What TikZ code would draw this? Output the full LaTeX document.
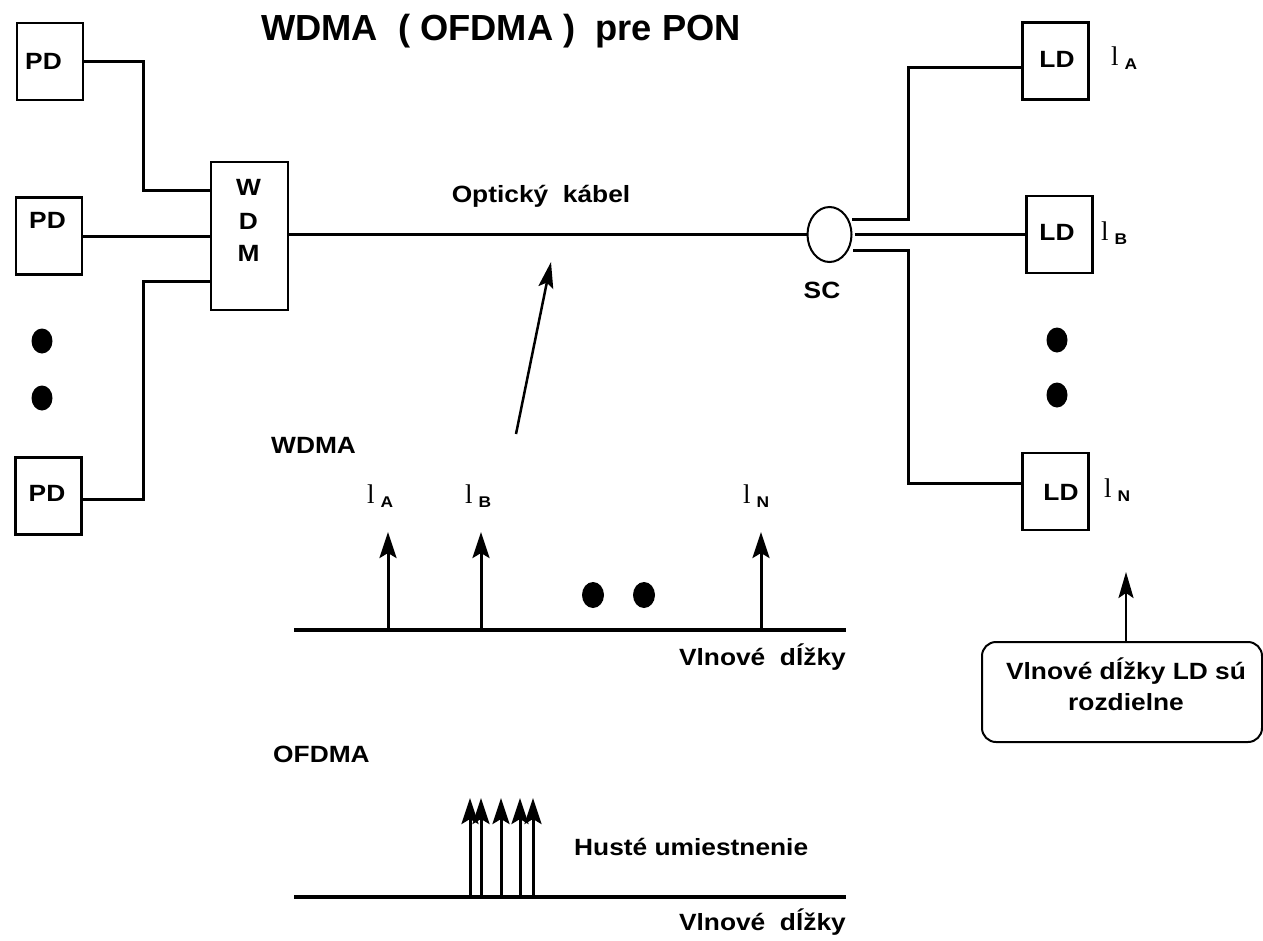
\documentclass[tikz,border=0pt]{standalone}
\usepackage{fontspec}
\setmainfont{Liberation Sans}[FakeStretch=1.12]
\newfontfamily\titlefont{Liberation Sans}
\newfontfamily\serifl{Liberation Serif}
\usetikzlibrary{arrows.meta,shapes.geometric}
\newcommand{\lamb}[1]{{\serifl\fontsize{27}{27}\selectfont l}\hspace{6pt}\raisebox{-4pt}{\fontsize{15.5}{15.5}\selectfont\bfseries #1}}
\tikzset{
  box/.style={draw, line width=2.5pt, minimum width=66pt, minimum height=77pt, inner sep=0pt},
  lab/.style={font=\fontsize{23.5}{27}\selectfont\bfseries, inner sep=0pt},
  wire/.style={line width=3pt},
  axisline/.style={line width=4pt},
  spike/.style={line width=3pt, -{Stealth[length=26pt,width=17pt,inset=5pt]}},
  lamlab/.style={anchor=base west, inner sep=0pt},
}
\begin{document}
\begin{tikzpicture}[x=1pt,y=-1pt]
\useasboundingbox (0,0) rectangle (1263,940);
% title
\node[anchor=base, font=\titlefont\fontsize{36.3}{40}\selectfont\bfseries, inner sep=0pt] (title) at (501,40) {WDMA\ \ (\ OFDMA\ )\ \ pre PON};
% PD boxes
\node[box] (pd1) at (50,61.5) {};
\node[box] (pd2) at (49,236) {};
\node[box] (pd3) at (48.5,496) {};
\node[lab] (pd1t) at (43.5,61) {PD};
\node[lab] (pd2t) at (47.5,220) {PD};
\node[lab] (pd3t) at (47,493) {PD};
% WDM
\node[box, minimum width=77pt, minimum height=148pt] (wdm) at (249.5,236) {};
\node[lab] (wdmW) at (248.5,187) {W};
\node[lab] (wdmD) at (248.5,221) {D};
\node[lab] (wdmM) at (248.5,253) {M};
% left dots
\fill (42,341) ellipse [x radius=10.5, y radius=12.5];
\fill (42,398) ellipse [x radius=10.5, y radius=12.5];
% wires left
\draw[wire] (pd1.east) -| (143,190) -- (wdm.west |- 143,190);
\draw[wire] (pd2.east) -- (wdm.west |- pd2.east);
\draw[wire] (wdm.west |- 0,281) -| (143,499) -- (pd3.east |- 0,499);
% SC
\node[draw, ellipse, line width=2pt, minimum width=44pt, minimum height=55pt, inner sep=0pt] (sc) at (829.5,234.5) {};
\node[lab, anchor=base] (sct) at (822,298) {SC};
\draw[wire] (wdm.east |- sc.west) -- (sc.west);
\node[lab, anchor=base] (cable) at (541,202) {Optický\ \ kábel};
% LD boxes
\node[box] (ld1) at (1055.5,61) {};
\node[box] (ld2) at (1059.5,234.5) {};
\node[box] (ld3) at (1055.5,491.5) {};
\node[lab] (ld1t) at (1057,59) {LD};
\node[lab] (ld2t) at (1057,232) {LD};
\node[lab] (ld3t) at (1061,492) {LD};
\node[lamlab] (ldA) at (1111,65) {\lamb{A}};
\node[lamlab] (ldB) at (1101,240) {\lamb{B}};
\node[lamlab] (ldN) at (1104,497) {\lamb{N}};
% wires right
\coordinate (scu) at (852,219);
\coordinate (scm) at (855,234.5);
\coordinate (scl) at (853,250);
\draw[wire] (scu) -| (908,67) -- (ld1.west |- 0,67);
\draw[wire] (scm) -- (ld2.west);
\draw[wire] (scl) -| (908,483) -- (ld3.west |- 0,483);
% right dots
\fill (1057,340) ellipse [x radius=10.5, y radius=12.5];
\fill (1057,395) ellipse [x radius=10.5, y radius=12.5];
% arrow to cable
\coordinate (ocA) at (516,434);
\coordinate (ocB) at (551,262);
\draw[line width=2.5pt, -{Stealth[length=26pt,width=15pt,inset=5pt]}] (ocA) -- (ocB);
% WDMA chart
\node[lab, anchor=base west] (wdmal) at (271,453) {WDMA};
\node[lamlab] (wA) at (367,503) {\lamb{A}};
\node[lamlab] (wB) at (465,503) {\lamb{B}};
\node[lamlab] (wN) at (743,503) {\lamb{N}};
\draw[axisline] (294,630) -- (846,630);
\draw[spike] (388,630) -- (388,532);
\draw[spike] (481,630) -- (481,532);
\draw[spike] (761,630) -- (761,532);
\fill (593,595) ellipse [x radius=11, y radius=13];
\fill (644,595) ellipse [x radius=11, y radius=13];
\node[lab, anchor=base east] (vl1) at (846,665) {Vlnové\ \ dĺžky};
% OFDMA chart
\node[lab, anchor=base west] (ofdmal) at (273,762) {OFDMA};
\draw[axisline] (294,897) -- (846,897);
\draw[spike] (470,897) -- (470,798);
\draw[spike] (481,897) -- (481,798);
\draw[spike] (501,897) -- (501,798);
\draw[spike] (520,897) -- (520,798);
\draw[spike] (533,897) -- (533,798);
\node[lab, anchor=base west] (huste) at (574,855) {Husté umiestnenie};
\node[lab, anchor=base east] (vl2) at (846,930) {Vlnové\ \ dĺžky};
% note box
\node[draw, line width=2pt, rounded corners=14pt, minimum width=280pt, minimum height=100pt, inner sep=0pt] (note) at (1122,692) {};
\node[lab, align=center, font=\fontsize{23.5}{31}\selectfont\bfseries] (notet) at (1126,684) {Vlnové dĺžky LD sú\\rozdielne};
\coordinate (noteTip) at (1126,572);
\draw[line width=2.5pt, -{Stealth[length=26pt,width=15pt,inset=5pt]}] (note.north -| noteTip) -- (noteTip);
\end{tikzpicture}
\end{document}
